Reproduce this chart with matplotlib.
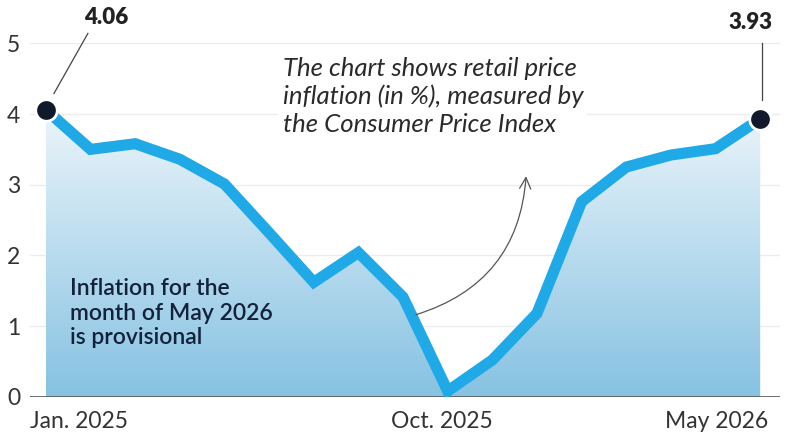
import numpy as np
import matplotlib.pyplot as plt
from matplotlib.colors import LinearSegmentedColormap

months = ["Jan. 2025", "Feb", "Mar", "Apr", "May", "Jun", "Jul", "Aug", "Sep",
          "Oct. 2025", "Nov", "Dec", "Jan", "Feb", "Mar", "Apr", "May 2026"]
cpi = [4.06, 3.50, 3.58, 3.36, 3.01, 2.32, 1.62, 2.04, 1.41,
       0.08, 0.52, 1.18, 2.76, 3.25, 3.42, 3.51, 3.93]
yticks = [0, 1, 2, 3, 4, 5]
xtick_idx = [0, 9, 16]

x = np.arange(len(cpi))

plt.rcParams['font.family'] = ['Lato', 'DejaVu Sans']
fig = plt.figure(figsize=(7.85, 4.36), dpi=100)
ax = fig.add_axes([0.038, 0.090, 0.956, 0.8106])
ax.set_xlim(-0.36, 16.45)
ax.set_ylim(0, 5)

# gradient fill under the line
cmap = LinearSegmentedColormap.from_list("fill", ["#86c2e2", "#f2f8fc"])
grad = np.linspace(0, 1, 256).reshape(-1, 1)
poly = ax.fill_between(x, cpi, 0, color="none", lw=0)
img = ax.imshow(grad, cmap=cmap, origin="lower", aspect="auto",
                extent=[x[0], x[-1], 0, 4.3], zorder=1)
path = poly.get_paths()[0]
img.set_clip_path(path, transform=ax.transData)

for v in yticks[1:]:
    ax.axhline(v, color="#ececec", lw=1, zorder=0.5)
ax.axhline(0, color="#555555", lw=1.2, zorder=3)

ax.plot(x, cpi, color="#1fa9e6", lw=8, solid_joinstyle="miter", zorder=4)

# end points with labels
for i in [0, len(cpi) - 1]:
    ax.scatter(x[i], cpi[i], s=240, color="#111a2a", edgecolor="white",
               linewidth=2, zorder=6, clip_on=False)

ax.plot([0.94, 0.18], [5.14, 4.29], color="#444444", lw=0.9, clip_on=False, zorder=5)
ax.text(1.35, 5.22, f"{cpi[0]:.2f}", ha="center", va="bottom", fontsize=16,
        fontweight="heavy", color="#222222")
ax.plot([16.03, 16.03], [5.0, 4.2], color="#444444", lw=0.9, clip_on=False, zorder=5)
ax.text(15.78, 5.15, f"{cpi[-1]:.2f}", ha="center", va="bottom", fontsize=16,
        fontweight="heavy", color="#222222")

ax.text(5.3, 4.8, "The chart shows retail price\ninflation (in %), measured by\nthe Consumer Price Index",
        fontsize=18.5, style="italic", color="#2a2a2a", va="top", ha="left",
        linespacing=1.22, zorder=5,
        bbox=dict(facecolor="white", edgecolor="none", pad=3))

ax.annotate("", xy=(10.76, 3.16), xytext=(8.23, 1.15),
            arrowprops=dict(arrowstyle="->", color="#555555", lw=0.9,
                            connectionstyle="arc3,rad=0.35",
                            mutation_scale=20), zorder=5)

ax.text(0.55, 1.68, "Inflation for the\nmonth of May 2026\nis provisional",
        fontsize=16.5, fontweight="semibold", color="#14213a", va="top", ha="left",
        linespacing=1.22, zorder=5)

for s in ax.spines.values():
    s.set_visible(False)
ax.set_yticks(yticks)
ax.set_yticklabels([str(v) for v in yticks])
ax.tick_params(axis="y", length=0, pad=7, labelsize=16.5, labelcolor="#333333")
ax.set_xticks([])
xpos = [x[0] - 0.36, x[9] - 0.12, x[16] + 0.19]
for i, xi, ha in zip(xtick_idx, xpos, ["left", "center", "right"]):
    ax.text(xi, -0.2, months[i], ha=ha, va="top", fontsize=16.5, color="#333333")

fig.savefig("out.png", dpi=100)
